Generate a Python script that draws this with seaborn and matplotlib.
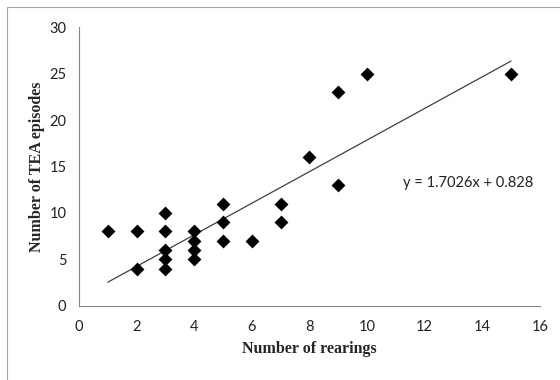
import numpy as np
import pandas as pd
import matplotlib
matplotlib.use('Agg')
import matplotlib.pyplot as plt
import seaborn as sns
from matplotlib.patches import Rectangle

# Data
rearings = [1, 2, 2, 3, 3, 3, 3, 3, 4, 4, 4, 4, 5, 5, 5, 6, 7, 7, 8, 9, 9, 10, 15]
tea_episodes = [8, 8, 4, 10, 8, 6, 5, 4, 8, 7, 6, 5, 11, 9, 7, 7, 11, 9, 16, 23, 13, 25, 25]
slope = 1.7026
intercept = 0.828
x_ticks = [0, 2, 4, 6, 8, 10, 12, 14, 16]
y_ticks = [0, 5, 10, 15, 20, 25, 30]

df = pd.DataFrame({'rearings': rearings, 'tea': tea_episodes})

sns.set_style('white')
plt.rcParams['font.family'] = ['Lato', 'DejaVu Sans']

fig = plt.figure(figsize=(5.6, 3.8), dpi=100)
ax = fig.add_axes([0.141, 0.1955, 0.823, 0.7325])

# figure border
fig.patches.append(Rectangle((7 / 560, -0.1), 1.2, (373 / 380) + 0.1, transform=fig.transFigure,
                             fill=False, edgecolor='#a6a6a6', linewidth=0.8))

sns.scatterplot(data=df, x='rearings', y='tea', marker='D', s=50, color='black',
                edgecolor='black', linewidth=0, ax=ax, zorder=3)

# linear trend line from the equation
xs = np.array([min(rearings), max(rearings)])
ax.plot(xs, slope * xs + intercept, color='#404040', linewidth=0.9, zorder=2)
ax.text(11.25, 13.2, f'y = {slope}x + {intercept}', fontsize=10.5, ha='left', va='center',
        color='#222222')

ax.set_xlim(0, 16)
ax.set_ylim(0, 30)
ax.set_xticks(x_ticks)
ax.set_yticks(y_ticks)
ax.tick_params(axis='both', labelsize=10.5, colors='#222222', length=4, width=0.8,
               color='#868686', direction='out')
ax.tick_params(axis='x', pad=6)
ax.tick_params(axis='y', pad=5)
for side in ['top', 'right']:
    ax.spines[side].set_visible(False)
for side in ['left', 'bottom']:
    ax.spines[side].set_color('#868686')
    ax.spines[side].set_linewidth(0.8)

ax.set_xlabel('Number of rearings', fontsize=11.5, fontweight='bold',
              family='Liberation Serif', labelpad=5)
ax.set_ylabel('Number of TEA episodes', fontsize=11.5, fontweight='bold',
              family='Liberation Serif', labelpad=3)

fig.savefig('out.png', dpi=100)
